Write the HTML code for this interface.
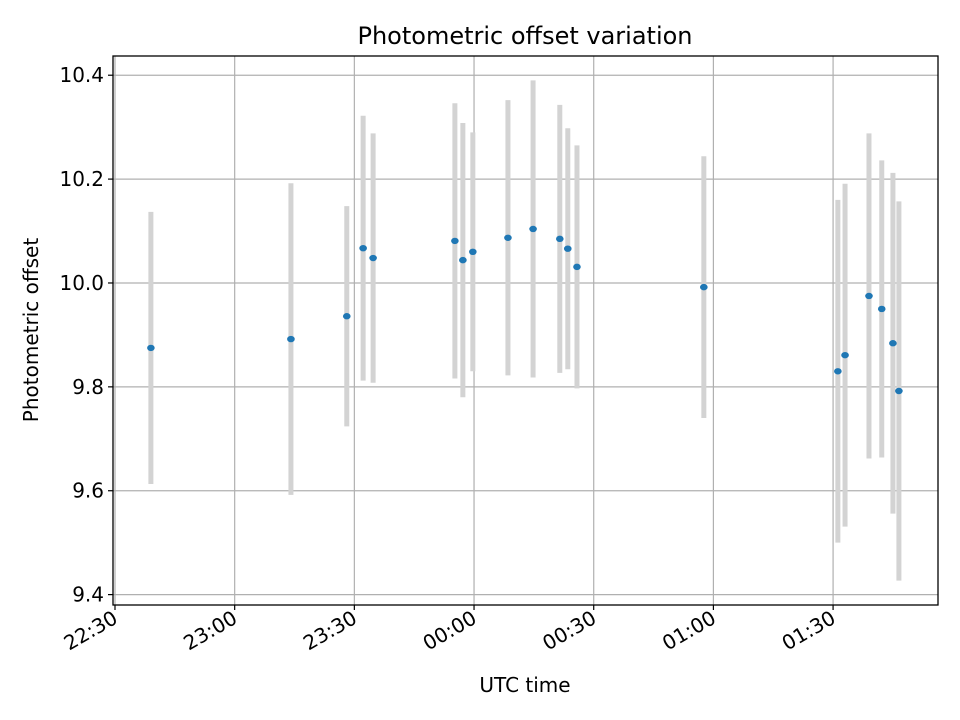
<!DOCTYPE html>
<html><head><meta charset="utf-8"><style>
body{margin:0;background:#fff}
svg{display:block;font-family:"DejaVu Sans","Liberation Sans",sans-serif}
</style></head><body>
<svg id="chart" width="960" height="720" viewBox="0 0 960 720" xmlns="http://www.w3.org/2000/svg">
<rect width="960" height="720" fill="#fff"/>
<g id="grid"></g>
<g id="errs"></g>
<g id="pts"></g>
<rect x="113" y="56" width="825" height="549" fill="none" stroke="#000" stroke-width="1.3"/>
<g id="xt"></g><g id="yt"></g>
<text x="525" y="44" font-size="24" text-anchor="middle">Photometric offset variation</text>
<text x="525" y="692" font-size="20" text-anchor="middle">UTC time</text>
<text transform="translate(38,330) rotate(-90)" font-size="20" text-anchor="middle">Photometric offset</text>
</svg>
<script>
// minutes since 22:30 UTC
const times=[9.0,44.1,58.1,62.2,64.7,85.2,87.2,89.7,98.5,104.8,111.5,113.5,115.8,147.6,181.2,183.0,189.0,192.2,195.0,196.5];
const values=[9.875,9.892,9.936,10.067,10.048,10.081,10.044,10.06,10.087,10.104,10.085,10.066,10.031,9.992,9.83,9.861,9.975,9.95,9.884,9.792];
const errors=[0.262,0.3,0.212,0.255,0.24,0.265,0.264,0.23,0.265,0.286,0.258,0.232,0.234,0.252,0.33,0.33,0.313,0.286,0.328,0.365];
const xTickMin=[0,30,60,90,120,150,180];
const xTickLabels=["22:30","23:00","23:30","00:00","00:30","01:00","01:30"];
const yTicks=[9.4,9.6,9.8,10.0,10.2,10.4];
const NS="http://www.w3.org/2000/svg";
const X0=113,X1=938,Y0=56,Y1=605;
const xMin=-0.5,xMax=206.3,yMin=9.380,yMax=10.437;
const xs=v=>X0+(v-xMin)/(xMax-xMin)*(X1-X0);
const ys=v=>Y1-(v-yMin)/(yMax-yMin)*(Y1-Y0);
function mk(t,a,p){const e=document.createElementNS(NS,t);for(const k in a)e.setAttribute(k,a[k]);p.appendChild(e);return e;}
const grid=document.getElementById('grid'),xt=document.getElementById('xt'),yt=document.getElementById('yt');
xTickMin.forEach((m,i)=>{const x=xs(m);
 const g=mk('line',{x1:x,x2:x,y1:Y0,y2:Y1,stroke:'#b0b0b0','stroke-width':1.2},grid);
 
 
 const t=mk('line',{x1:x,x2:x,y1:Y1,y2:Y1+5,stroke:'#000','stroke-width':1.2},xt);
 
 
 const l=mk('text',{transform:`translate(${x+4},${Y1+17}) rotate(-30)`,'font-size':20,'text-anchor':'end'},xt);
 
 
 l.textContent=xTickLabels[i];});
yTicks.forEach(v=>{const y=ys(v);
 const g=mk('line',{x1:X0,x2:X1,y1:y,y2:y,stroke:'#b0b0b0','stroke-width':1.2},grid);
 
 
 const t=mk('line',{x1:X0-5,x2:X0,y1:y,y2:y,stroke:'#000','stroke-width':1.2},yt);
 
 
 const l=mk('text',{x:X0-9,y:y+7,'font-size':20,'text-anchor':'end'},yt);
 
 
 l.textContent=v.toFixed(1);});
const errs=document.getElementById('errs'),pts=document.getElementById('pts');
times.forEach((m,i)=>{const x=xs(m);
 const e=mk('line',{x1:x,x2:x,y1:ys(values[i]+errors[i]),y2:ys(values[i]-errors[i]),stroke:'#d3d3d3','stroke-width':5},errs);
 
 
 const c=mk('ellipse',{cx:x,cy:ys(values[i]),rx:3.8,ry:3.2,fill:'#1f77b4'},pts);
 
 });
</script>
</body></html>
